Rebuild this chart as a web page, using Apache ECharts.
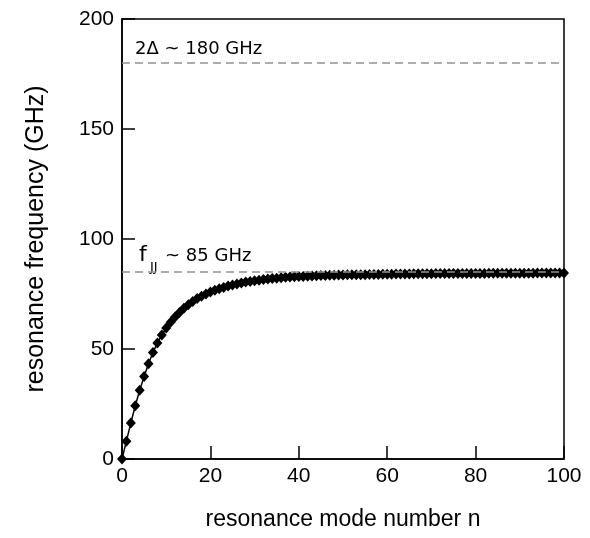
<!DOCTYPE html>
<html>
<head>
<meta charset="utf-8">
<script src="https://cdn.jsdelivr.net/npm/echarts@6/dist/echarts.min.js"></script>
<style>
html,body{margin:0;padding:0;background:#fff;}
#c{width:590px;height:538px;}
</style>
</head>
<body>
<div id="c"></div>
<script>
// resonance frequency (GHz) for mode number n = 0..100 (index = n)
const frequencies = [
  0, 8.1, 16.4, 24.2, 31.2, 37.5, 43.3, 48.4, 52.7, 56.4,
  59.5, 62.2, 64.5, 66.6, 68.5, 70.1, 71.6, 72.9, 74.0, 75.0,
  75.9, 76.7, 77.4, 78.0, 78.6, 79.1, 79.6, 80.0, 80.4, 80.7,
  81.0, 81.3, 81.6, 81.8, 82.0, 82.2, 82.4, 82.6, 82.7, 82.8,
  82.9, 83.0, 83.1, 83.2, 83.3, 83.4, 83.4, 83.5, 83.5, 83.6,
  83.6, 83.7, 83.7, 83.8, 83.8, 83.8, 83.9, 83.9, 83.9, 84.0,
  84.0, 84.0, 84.1, 84.1, 84.1, 84.1, 84.2, 84.2, 84.2, 84.2,
  84.2, 84.3, 84.3, 84.3, 84.3, 84.3, 84.3, 84.3, 84.3, 84.3,
  84.3, 84.3, 84.3, 84.4, 84.4, 84.4, 84.4, 84.4, 84.4, 84.4,
  84.4, 84.4, 84.4, 84.4, 84.5, 84.5, 84.5, 84.5, 84.5, 84.5,
  84.5
];
const refLevels = [180, 85];          // 2Δ and f_JJ reference lines (GHz)
const xTicks = [0, 20, 40, 60, 80, 100];
const yTicks = [0, 50, 100, 150, 200];
const xAxisName = 'resonance mode number n';
const yAxisName = 'resonance frequency (GHz)';

const seriesData = frequencies.map((f, n) => [n, f]);
const xMin = xTicks[0], xMax = xTicks[xTicks.length - 1];

const chart = echarts.init(document.getElementById('c'), null, {renderer: 'canvas'});

const refSeries = refLevels.map(level => ({
  type: 'line',
  data: [[xMin, level], [xMax, level]],
  symbol: 'none',
  silent: true,
  z: 5,
  lineStyle: {color: '#939393', width: 1.5, type: [8, 5]}
}));

chart.setOption({
  backgroundColor: '#fff',
  animation: false,
  grid: {left: 122, right: 26, top: 19, bottom: 79, show: true,
         borderColor: '#000', borderWidth: 1.5, backgroundColor: 'transparent'},
  xAxis: {
    type: 'value', min: xMin, max: xMax, interval: xTicks[1] - xTicks[0],
    name: xAxisName, nameLocation: 'middle', nameGap: 49,
    nameTextStyle: {fontFamily: 'Liberation Sans', fontSize: 23, color: '#000'},
    axisLine: {show: true, lineStyle: {color: '#000', width: 1.5}},
    axisTick: {show: true, inside: true, length: 13, lineStyle: {color: '#000', width: 1.5}},
    axisLabel: {fontFamily: 'Liberation Sans', fontSize: 21, color: '#000', margin: 7},
    splitLine: {show: false}
  },
  yAxis: {
    type: 'value', min: yTicks[0], max: yTicks[yTicks.length - 1], interval: yTicks[1] - yTicks[0],
    name: yAxisName, nameLocation: 'middle', nameGap: 73, nameRotate: 90,
    nameTextStyle: {fontFamily: 'Liberation Sans', fontSize: 25, color: '#000'},
    axisLine: {show: true, lineStyle: {color: '#000', width: 1.5}},
    axisTick: {show: true, inside: true, length: 13, lineStyle: {color: '#000', width: 1.5}},
    axisLabel: {fontFamily: 'Liberation Sans', fontSize: 21, color: '#000', margin: 8},
    splitLine: {show: false}
  },
  series: [{
    type: 'line',
    data: seriesData,
    z: 3,
    symbol: 'diamond',
    symbolSize: [10, 11],
    itemStyle: {color: '#000'},
    lineStyle: {color: '#000', width: 1.5}
  }].concat(refSeries)
});

// annotations anchored to the reference levels
const p180 = chart.convertToPixel({gridIndex: 0}, [xMin, refLevels[0]]);
const p85 = chart.convertToPixel({gridIndex: 0}, [xMin, refLevels[1]]);
const annFont = 'DejaVu Sans';
chart.setOption({
  graphic: [
    {type: 'text', left: p180[0] + 13, top: p180[1] - 23,
     style: {text: '2Δ ~ 180 GHz', fontFamily: annFont, fontSize: 18, fill: '#000'}},
    {type: 'text', left: p85[0] + 17, top: p85[1] - 28,
     style: {text: 'f', fontFamily: annFont, fontSize: 22, fill: '#000'}},
    {type: 'text', left: p85[0] + 28, top: p85[1] - 11,
     style: {text: 'JJ', fontFamily: annFont, fontSize: 13, fill: '#000'}},
    {type: 'text', left: p85[0] + 43, top: p85[1] - 25,
     style: {text: '~ 85 GHz', fontFamily: annFont, fontSize: 18, fill: '#000'}}
  ]
});
</script>
</body>
</html>
